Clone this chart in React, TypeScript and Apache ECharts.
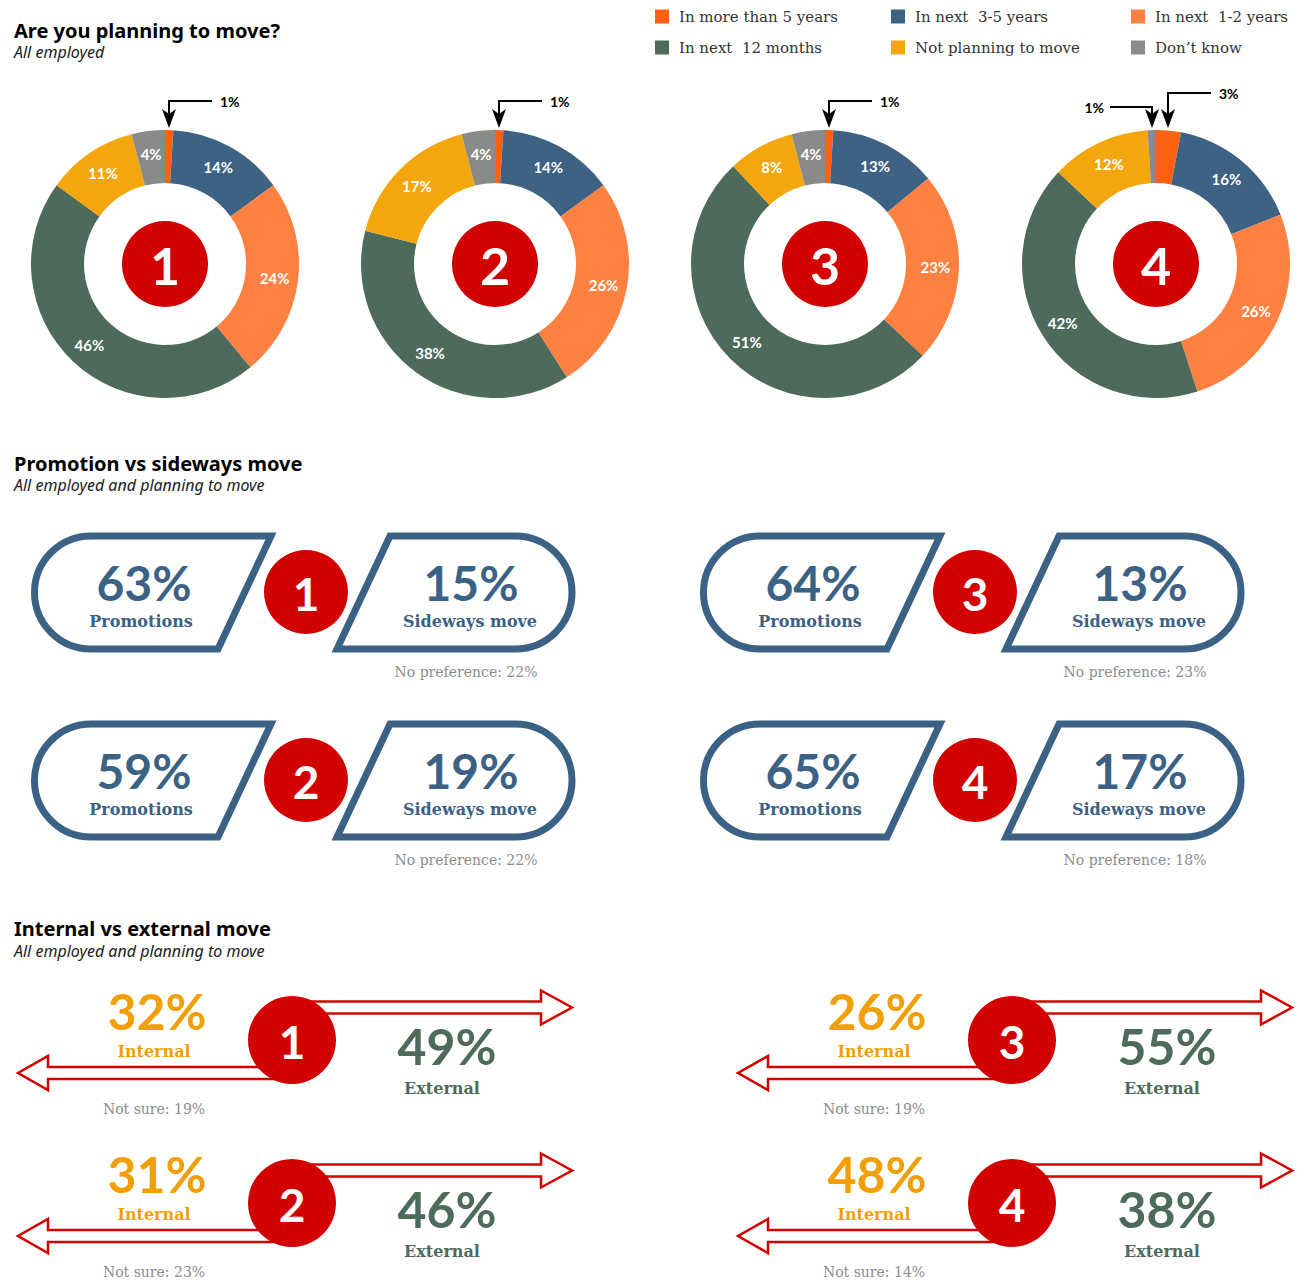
import React, { useEffect, useRef } from 'react';
import * as echarts from 'echarts';

// ---------- data ----------
const SEGMENTS = [
  'In more than 5 years',
  'In next  3-5 years',
  'In next  1-2 years',
  'In next  12 months',
  'Not planning to move',
  'Don’t know',
];
const SEG_COLORS = ['#FF6112', '#3D6283', '#FF8142', '#4D6A5B', '#F4A60D', '#8A8A8A'];
const DONUT_1 = [1, 14, 24, 46, 11, 4];
const DONUT_2 = [1, 14, 26, 38, 17, 4];
const DONUT_3 = [1, 13, 23, 51, 8, 4];
const DONUT_4 = [3, 16, 26, 42, 12, 1];
const DONUTS = [DONUT_1, DONUT_2, DONUT_3, DONUT_4];
const GROUPS = ['1', '2', '3', '4'];

const PROMOTIONS = [63, 59, 64, 65];
const SIDEWAYS = [15, 19, 13, 17];
const NO_PREFERENCE = [22, 22, 23, 18];

const INTERNAL = [32, 31, 26, 48];
const EXTERNAL = [49, 46, 55, 38];
const NOT_SURE = [19, 23, 19, 14];

// ---------- layout ----------
const W = 1312;
const H = 1280;
const DONUT_CX = [165, 495, 825, 1156];
const DONUT_CY = 264;
const R_IN = 81;
const R_OUT = 134;
const RED = '#D30000';
const BLUE = '#3B6284';
const ORANGE_TXT = '#F29F05';
const GREEN_TXT = '#4D6A5B';
const GREY_TXT = '#8C8C8C';
const SANS = 'Lato, "Noto Sans", sans-serif';
const TITLE_SANS = '"Noto Sans", sans-serif';
const SERIF = '"DejaVu Serif", serif';

const PROMO_OFFSETS = [[0, 0], [0, 188], [669, 0], [669, 188]];
const MOVE_OFFSETS = [[0, 0], [0, 163], [720, 0], [720, 163]];

echarts.graphic.registerShape(
  'promoLeft',
  echarts.graphic.extendPath('M 91 536 L 271 536 L 218 649 L 91 649 A 56.5 56.5 0 0 1 91 536 Z', {})
);
echarts.graphic.registerShape(
  'promoRight',
  echarts.graphic.extendPath('M 390 536 L 515.5 536 A 56.5 56.5 0 0 1 515.5 649 L 337 649 Z', {})
);
echarts.graphic.registerShape(
  'arrowRight',
  echarts.graphic.extendPath('M 292 1001.5 L 541 1001.5 L 541 990.5 L 572 1007.5 L 541 1024.5 L 541 1013.5 L 292 1013.5 Z', {})
);
echarts.graphic.registerShape(
  'arrowLeft',
  echarts.graphic.extendPath('M 292 1067 L 48 1067 L 48 1056 L 18 1073 L 48 1090 L 48 1079 L 292 1079 Z', {})
);

function txt(
  x: number,
  y: number,
  text: string,
  fill: string,
  fontSize: number,
  fontFamily: string,
  fontWeight: string | number = 'normal',
  align = 'center'
) {
  return {
    type: 'text',
    x,
    y,
    silent: true,
    style: {
      text,
      fill,
      fontSize,
      fontFamily,
      fontWeight,
      align,
      verticalAlign: 'middle',
      textAlign: align,
      textVerticalAlign: 'middle',
    },
  };
}

function badge(cx: number, cy: number, r: number, label: string, fontSize: number) {
  return [
    { type: 'circle', silent: true, shape: { cx, cy, r }, style: { fill: RED } },
    txt(cx, cy + 1, label, '#fff', fontSize, SANS, 'bold'),
  ];
}

function buildGraphics() {
  const els: any[] = [];

  // donut centres and callouts for the smallest slices
  DONUTS.forEach((vals, d) => {
    const cx = DONUT_CX[d];
    els.push(...badge(cx, DONUT_CY, 43, GROUPS[d], 52));
    const total = vals.reduce((a, b) => a + b, 0);
    const small: { x: number; v: number; right: boolean }[] = [];
    let cum = 0;
    vals.forEach((v) => {
      const mid = ((cum + v / 2) / total) * Math.PI * 2;
      cum += v;
      if (v <= 3) {
        small.push({ x: cx + R_OUT * Math.sin(mid) * 0.97, v, right: Math.sin(mid) >= 0 });
      }
    });
    small.forEach((s) => {
      const y = small.length > 1 ? (s.right ? 93 : 107) : 101;
      const tipY = DONUT_CY - R_OUT - 2;
      const ax = Math.round(s.x);
      const lineEnd = s.right ? ax + 43 : ax - 42;
      els.push({
        type: 'polyline',
        silent: true,
        shape: { points: [[lineEnd, y], [ax, y], [ax, tipY - 14]] },
        style: { stroke: '#000', lineWidth: 2, fill: 'none' },
      });
      els.push({
        type: 'polygon',
        silent: true,
        shape: { points: [[ax - 7, tipY - 19], [ax, tipY - 14], [ax + 7, tipY - 19], [ax, tipY]] },
        style: { fill: '#000' },
      });
      els.push(txt(s.right ? lineEnd + 8 : lineEnd - 6, y, s.v + '%', '#000', 14, SANS, 'bold', s.right ? 'left' : 'right'));
    });
  });

  // promotion vs sideways
  PROMO_OFFSETS.forEach(([dx, dy], i) => {
    const st = { fill: '#fff', stroke: BLUE, lineWidth: 7, lineJoin: 'miter' };
    els.push({ type: 'promoLeft', x: dx, y: dy, silent: true, style: st });
    els.push({ type: 'promoRight', x: dx, y: dy, silent: true, style: st });
    els.push(...badge(306 + dx, 592 + dy, 42, GROUPS[i], 46));
    els.push(txt(144 + dx, 582 + dy, PROMOTIONS[i] + '%', BLUE, 48, SANS, 'bold'));
    els.push(txt(141 + dx, 621 + dy, 'Promotions', BLUE, 16, SERIF, 'bold'));
    els.push(txt(471 + dx, 582 + dy, SIDEWAYS[i] + '%', BLUE, 48, SANS, 'bold'));
    els.push(txt(470 + dx, 621 + dy, 'Sideways move', BLUE, 16, SERIF, 'bold'));
    els.push(txt(466 + dx, 672 + dy, 'No preference: ' + NO_PREFERENCE[i] + '%', GREY_TXT, 14, SERIF));
  });

  // internal vs external
  MOVE_OFFSETS.forEach(([dx, dy], i) => {
    const st = { fill: '#fff', stroke: RED, lineWidth: 2.5, lineJoin: 'miter' };
    els.push({ type: 'arrowRight', x: dx, y: dy, silent: true, style: st });
    els.push({ type: 'arrowLeft', x: dx, y: dy, silent: true, style: st });
    els.push(...badge(292 + dx, 1040 + dy, 44, GROUPS[i], 46));
    els.push(txt(157 + dx, 1011 + dy, INTERNAL[i] + '%', ORANGE_TXT, 50, SANS, 'bold'));
    els.push(txt(154 + dx, 1051 + dy, 'Internal', ORANGE_TXT, 16, SERIF, 'bold'));
    els.push(txt(447 + dx, 1046 + dy, EXTERNAL[i] + '%', GREEN_TXT, 50, SANS, 'bold'));
    els.push(txt(442 + dx, 1088 + dy, 'External', GREEN_TXT, 16, SERIF, 'bold'));
    els.push(txt(154 + dx, 1109 + dy, 'Not sure: ' + NOT_SURE[i] + '%', GREY_TXT, 14, SERIF));
  });

  return els;
}

function buildOption() {
  const titleStyle = { fontFamily: TITLE_SANS, fontWeight: 'bold', fontSize: 20, color: '#000' };
  const subStyle = { fontFamily: TITLE_SANS, fontStyle: 'italic', fontSize: 16, color: '#222' };
  const titles = [
    { text: 'Are you planning to move?', subtext: 'All employed', top: 20, itemGap: 4 },
    { text: 'Promotion vs sideways move', subtext: 'All employed and planning to move', top: 453, itemGap: 4 },
    { text: 'Internal vs external move', subtext: 'All employed and planning to move', top: 918, itemGap: 5 },
  ].map((t) => ({
    ...t,
    left: 14,
    padding: 0,
    textStyle: titleStyle,
    subtextStyle: subStyle,
  }));

  const legendCols = [[0, 3], [1, 4], [2, 5]];
  const legendX = [655, 891, 1131];
  const legends = legendCols.map((col, c) => ({
    data: col.map((k) => ({ name: SEGMENTS[k], icon: 'rect' })),
    orient: 'vertical',
    left: legendX[c],
    top: 9,
    padding: 0,
    itemWidth: 14,
    itemHeight: 14,
    itemGap: 16,
    selectedMode: false,
    textStyle: { fontFamily: SERIF, fontSize: 15, color: '#333', padding: [0, 0, 0, 5] },
  }));

  const series = DONUTS.map((vals, d) => ({
    type: 'pie',
    name: 'Group ' + GROUPS[d],
    center: [DONUT_CX[d], DONUT_CY],
    radius: [R_IN, R_OUT],
    startAngle: 90,
    clockwise: true,
    silent: true,
    avoidLabelOverlap: false,
    padAngle: 0,
    itemStyle: { borderWidth: 0, borderRadius: 0 },
    label: {
      show: true,
      position: 'inside',
      color: '#fff',
      fontFamily: SANS,
      fontWeight: 'bold',
      fontSize: 15,
      formatter: '{c}%',
    },
    labelLine: { show: false },
    emphasis: { disabled: true },
    data: vals.map((v, k) => ({
      name: SEGMENTS[k],
      value: v,
      itemStyle: { color: SEG_COLORS[k] },
      label: { show: v > 3 },
    })),
  }));

  return {
    animation: false,
    backgroundColor: '#fff',
    title: titles,
    legend: legends,
    tooltip: { show: false },
    series,
    graphic: { elements: buildGraphics() },
  };
}

export default function App() {
  const ref = useRef<HTMLDivElement>(null);
  useEffect(() => {
    document.body.style.margin = '0';
    if (!ref.current) return;
    const chart = echarts.init(ref.current, undefined, { renderer: 'svg' });
    chart.setOption(buildOption() as any);
    return () => chart.dispose();
  }, []);
  return <div ref={ref} style={{ width: W, height: H }} />;
}
